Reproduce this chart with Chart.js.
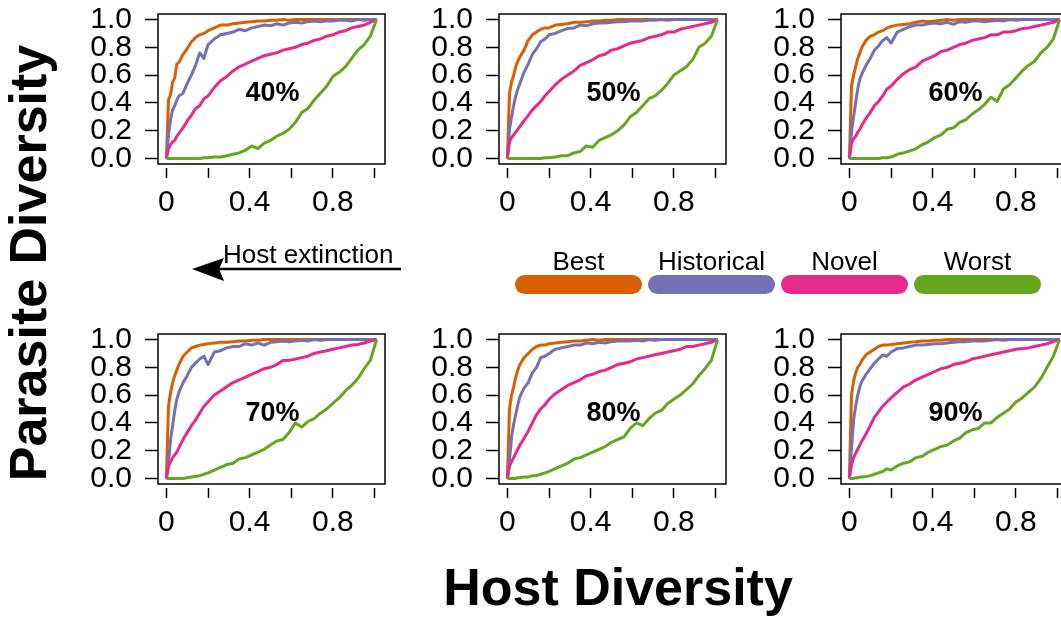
<!DOCTYPE html>
<html>
<head>
<meta charset="utf-8">
<script src="https://cdn.jsdelivr.net/npm/chart.js@4.4.1/dist/chart.umd.min.js"></script>
<style>
  html, body { margin: 0; padding: 0; background: #fff; }
  body { width: 1061px; height: 620px; position: relative; overflow: hidden; font-family: "Liberation Sans", Arial, sans-serif; }
  .panel { position: absolute; width: 320px; height: 230px; }
  #overlay { position: absolute; left: 0; top: 0; pointer-events: none; }
</style>
</head>
<body>
<div id="panels"></div>
<svg id="overlay" width="1061" height="620"></svg>
<script>
// host diversity (x) sampled at the same points for every curve
const hostX = [0, 0.01, 0.02, 0.03, 0.04, 0.05, 0.06, 0.08, 0.10, 0.12, 0.14, 0.16, 0.18, 0.20,
  0.23, 0.26, 0.29, 0.32, 0.35, 0.38, 0.41, 0.44, 0.47, 0.50, 0.53, 0.56, 0.59, 0.62, 0.65,
  0.68, 0.71, 0.74, 0.77, 0.80, 0.83, 0.86, 0.89, 0.92, 0.95, 0.98, 1.01];

const seriesNames = ['Best', 'Historical', 'Novel', 'Worst'];
const seriesColors = ['#D95F02', '#7570B3', '#E7298A', '#66A61E'];
const panelLabels = ['40%', '50%', '60%', '70%', '80%', '90%'];

const xTickValues = [0, 0.2, 0.4, 0.6, 0.8, 1.0];
const xTickLabels = ['0', '', '0.4', '', '0.8', ''];
const yTickValues = [0, 0.2, 0.4, 0.6, 0.8, 1.0];
const yTickLabels = ['0.0', '0.2', '0.4', '0.6', '0.8', '1.0'];

// parasite diversity (y) per panel and scenario
const best40  = [0, .42, .46, .55, .58, .68, .69, .75, .79, .84, .87, .89, .90, .92, .94, .96, .96, .97, .975, .98, .985, .99, .99, .995, .995, 1, .995, 1, 1, 1, 1, 1, 1, 1, 1, 1, 1, 1, 1, 1, 1];
const hist40  = [0, .17, .28, .35, .38, .42, .45, .47, .54, .60, .67, .76, .72, .82, .86, .89, .90, .91, .93, .92, .94, .95, .96, .955, .97, .96, .975, .98, .975, .985, .99, .985, .99, .99, .995, .995, .99, 1, .995, 1, 1];
const novel40 = [0, .07, .10, .12, .13, .16, .18, .22, .27, .31, .36, .38, .43, .45, .51, .56, .59, .63, .66, .68, .70, .72, .74, .75, .76, .78, .79, .80, .82, .83, .85, .86, .88, .89, .91, .92, .94, .95, .96, .98, 1];
const worst40 = [0, 0, 0, 0, 0, 0, 0, 0, 0, 0, 0, 0, .005, .005, .01, .01, .02, .03, .04, .06, .09, .07, .11, .13, .16, .18, .21, .26, .33, .36, .42, .47, .52, .59, .62, .66, .72, .78, .82, .88, 1];

const best50  = [0, .47, .55, .60, .66, .70, .73, .78, .85, .89, .91, .93, .94, .94, .96, .965, .97, .98, .98, .985, .99, .99, .995, .995, 1, 1, 1, 1, 1, 1, 1, 1, 1, 1, 1, 1, 1, 1, 1, 1, 1];
const hist50  = [0, .21, .30, .38, .45, .50, .54, .62, .68, .75, .79, .84, .86, .89, .90, .92, .935, .94, .96, .955, .97, .975, .975, .98, .985, .985, .99, .99, .99, .995, .995, 1, .995, 1, 1, 1, 1, 1, 1, 1, 1];
const novel50 = [0, .12, .15, .17, .19, .21, .23, .27, .31, .35, .38, .41, .45, .48, .53, .57, .60, .63, .67, .69, .71, .74, .75, .78, .79, .81, .83, .84, .85, .87, .88, .89, .91, .91, .93, .94, .95, .96, .97, .98, 1];
const worst50 = [0, 0, 0, 0, 0, 0, 0, 0, 0, 0, 0, 0, .005, .005, .01, .02, .02, .04, .05, .09, .08, .13, .15, .17, .20, .24, .30, .33, .38, .43, .45, .49, .54, .60, .63, .66, .71, .80, .83, .88, 1];

const best60  = [0, .52, .60, .66, .72, .76, .80, .85, .88, .89, .91, .92, .94, .95, .96, .965, .97, .98, .99, .985, .99, .995, 1, .995, 1, 1, 1, 1, 1, 1, 1, 1, 1, 1, 1, 1, 1, 1, 1, 1, 1];
const hist60  = [0, .19, .30, .40, .50, .57, .61, .67, .72, .78, .81, .85, .87, .83, .91, .93, .95, .96, .96, .97, .975, .97, .98, .965, .985, .98, .99, .99, .985, .99, .995, .99, 1, .995, 1, 1, 1, 1, 1, 1, 1];
const novel60 = [0, .11, .14, .16, .19, .21, .24, .29, .33, .38, .41, .45, .50, .52, .57, .61, .64, .66, .70, .72, .74, .77, .78, .80, .82, .83, .85, .86, .87, .89, .89, .91, .91, .92, .935, .94, .95, .96, .97, .98, 1];
const worst60 = [0, 0, 0, 0, 0, 0, 0, 0, 0, 0, 0, .005, .005, .01, .03, .04, .055, .07, .10, .12, .15, .17, .21, .22, .26, .28, .32, .35, .39, .44, .41, .50, .53, .58, .63, .67, .70, .76, .80, .86, 1];

const best70  = [0, .52, .62, .69, .74, .78, .82, .88, .91, .94, .95, .96, .965, .97, .975, .98, .98, .985, .99, .99, .995, .995, 1, 1, 1, 1, 1, 1, 1, 1, 1, 1, 1, 1, 1, 1, 1, 1, 1, 1, 1];
const hist70  = [0, .12, .28, .38, .49, .57, .62, .69, .74, .80, .83, .86, .88, .82, .91, .92, .94, .95, .95, .97, .96, .975, .96, .98, .985, .99, .985, .99, .995, .99, 1, .995, 1, 1, 1, 1, 1, 1, 1, 1, 1];
const novel70 = [0, .09, .12, .15, .17, .19, .22, .28, .33, .38, .42, .47, .52, .55, .60, .63, .66, .69, .71, .73, .75, .77, .79, .80, .82, .85, .85, .86, .87, .88, .90, .91, .92, .93, .94, .95, .96, .965, .975, .99, 1];
const worst70 = [0, 0, 0, 0, 0, 0, 0, 0, .005, .01, .015, .02, .03, .04, .06, .08, .10, .11, .14, .15, .17, .19, .21, .24, .27, .28, .33, .40, .37, .41, .43, .47, .50, .54, .58, .63, .67, .72, .79, .85, 1];

const best80  = [0, .50, .60, .66, .73, .78, .82, .87, .90, .93, .95, .96, .96, .97, .975, .98, .985, .99, .99, .995, 1, .995, 1, 1, 1, 1, 1, 1, 1, 1, 1, 1, 1, 1, 1, 1, 1, 1, 1, 1, 1];
const hist80  = [0, .13, .30, .39, .46, .53, .59, .65, .69, .76, .80, .87, .88, .90, .93, .94, .95, .96, .96, .975, .97, .98, .975, .985, .99, .99, .99, .995, .99, 1, .995, 1, 1, 1, 1, 1, 1, 1, 1, 1, 1];
const novel80 = [0, .09, .12, .15, .18, .21, .24, .29, .34, .40, .46, .50, .53, .57, .61, .64, .67, .69, .71, .74, .75, .77, .78, .80, .82, .83, .84, .86, .87, .88, .89, .90, .91, .92, .93, .95, .95, .96, .97, .98, 1];
const worst80 = [0, 0, 0, 0, 0, .005, .005, .01, .01, .02, .02, .03, .04, .05, .07, .09, .11, .14, .15, .17, .19, .21, .23, .26, .28, .30, .36, .40, .38, .43, .47, .49, .54, .57, .60, .64, .68, .74, .79, .85, 1];

const best90  = [0, .60, .70, .76, .80, .82, .85, .89, .91, .93, .95, .96, .96, .965, .97, .975, .98, .985, .99, .99, .995, .995, 1, 1, 1, 1, 1, 1, 1, 1, 1, 1, 1, 1, 1, 1, 1, 1, 1, 1, 1];
const hist90  = [0, .22, .42, .52, .60, .66, .70, .75, .79, .83, .86, .89, .88, .91, .935, .94, .95, .96, .96, .965, .97, .97, .975, .98, .985, .985, .99, .99, .99, .995, 1, .995, 1, 1, 1, 1, 1, 1, 1, 1, 1];
const novel90 = [0, .10, .15, .18, .21, .24, .27, .32, .38, .44, .48, .52, .55, .58, .62, .66, .68, .71, .73, .75, .77, .79, .80, .82, .83, .84, .86, .87, .88, .89, .90, .91, .92, .93, .935, .94, .95, .96, .97, .985, 1];
const worst90 = [0, 0, 0, .005, .005, .01, .01, .015, .02, .03, .04, .05, .07, .06, .09, .11, .12, .15, .16, .19, .21, .23, .24, .27, .29, .33, .35, .36, .40, .40, .44, .47, .50, .55, .58, .62, .66, .72, .80, .88, 1];

const panelSeries = [
  [best40, hist40, novel40, worst40],
  [best50, hist50, novel50, worst50],
  [best60, hist60, novel60, worst60],
  [best70, hist70, novel70, worst70],
  [best80, hist80, novel80, worst80],
  [best90, hist90, novel90, worst90]
];

const FONT = '"Liberation Sans", Arial, Helvetica, sans-serif';

// box round the plot area, like R's box()
const framePlugin = {
  id: 'frame',
  afterDraw(chart) {
    const { ctx, chartArea: a } = chart;
    ctx.save();
    ctx.strokeStyle = '#000';
    ctx.lineWidth = 1.5;
    ctx.strokeRect(a.left, a.top, a.right - a.left, a.bottom - a.top);
    ctx.restore();
  }
};

// the "40%" etc text inside each panel
const panelLabelPlugin = {
  id: 'panelLabel',
  afterDatasetsDraw(chart, args, opts) {
    const { ctx, scales } = chart;
    ctx.save();
    ctx.font = 'bold 27px ' + FONT;
    ctx.fillStyle = '#000';
    ctx.textAlign = 'center';
    ctx.textBaseline = 'middle';
    ctx.fillText(opts.text, scales.x.getPixelForValue(0.51), scales.y.getPixelForValue(0.47));
    ctx.restore();
  }
};

const panelLefts = [78, 419, 761];
const panelTops = [0, 320];
const holder = document.getElementById('panels');

panelSeries.forEach((series, p) => {
  const div = document.createElement('div');
  div.className = 'panel';
  div.style.left = panelLefts[p % 3] + 'px';
  div.style.top = panelTops[Math.floor(p / 3)] + 'px';
  const canvas = document.createElement('canvas');
  canvas.width = 320;
  canvas.height = 230;
  div.appendChild(canvas);
  holder.appendChild(div);

  new Chart(canvas, {
    type: 'line',
    data: {
      datasets: series.map((vals, i) => ({
        label: seriesNames[i],
        data: hostX.map((x, j) => ({ x: x, y: vals[j] })),
        borderColor: seriesColors[i],
        borderWidth: 3,
        borderJoinStyle: 'round',
        pointRadius: 0,
        tension: 0,
        fill: false,
        order: seriesNames.length - i
      }))
    },
    options: {
      responsive: false,
      animation: false,
      layout: { padding: { left: 0, top: 14, right: 13, bottom: 0 } },
      plugins: {
        legend: { display: false },
        tooltip: { enabled: false },
        panelLabel: { text: panelLabels[p] }
      },
      scales: {
        x: {
          type: 'linear',
          min: -0.0404,
          max: 1.0504,
          afterBuildTicks: s => { s.ticks = xTickValues.map(v => ({ value: v })); },
          afterFit: s => { s.height = 66; s.paddingLeft = 0; s.paddingRight = 0; },
          ticks: {
            autoSkip: false,
            maxRotation: 0,
            padding: 7,
            color: '#000',
            font: { family: FONT, size: 30 },
            callback: (v) => xTickLabels[xTickValues.indexOf(v)] ?? ''
          },
          grid: {
            drawOnChartArea: false,
            tickLength: 14,
            tickColor: '#000',
            tickWidth: 1.5,
            tickBorderDash: [0, 4, 10, 100]
          },
          border: { display: false }
        },
        y: {
          type: 'linear',
          min: -0.04,
          max: 1.04,
          afterBuildTicks: s => { s.ticks = yTickValues.map(v => ({ value: v })); },
          afterFit: s => { s.width = 80; s.paddingTop = 0; s.paddingBottom = 0; },
          ticks: {
            autoSkip: false,
            padding: 13,
            color: '#000',
            font: { family: FONT, size: 30 },
            callback: (v) => yTickLabels[yTickValues.indexOf(v)] ?? ''
          },
          grid: {
            drawOnChartArea: false,
            tickLength: 13,
            tickColor: '#000',
            tickWidth: 1.5
          },
          border: { display: false }
        }
      }
    },
    plugins: [framePlugin, panelLabelPlugin]
  });
});

// titles, arrow and legend in an svg on top
const svg = document.getElementById('overlay');
const NS = 'http://www.w3.org/2000/svg';
function add(tag, attrs, text) {
  const el = document.createElementNS(NS, tag);
  for (const k in attrs) el.setAttribute(k, attrs[k]);
  if (text) el.textContent = text;
  svg.appendChild(el);
  return el;
}

add('text', { x: 618, y: 605, 'text-anchor': 'middle', 'font-family': FONT, 'font-weight': 'bold', 'font-size': 52 }, 'Host Diversity');
add('text', { x: 46, y: 263, 'text-anchor': 'middle', 'font-family': FONT, 'font-weight': 'bold', 'font-size': 52,
  transform: 'rotate(-90 46 263)' }, 'Parasite Diversity');

// host extinction arrow
add('line', { x1: 401, y1: 269, x2: 210, y2: 269, stroke: '#000', 'stroke-width': 2.5 });
add('polygon', { points: '192,269 224,258 219,269 224,281', fill: '#000' });
add('text', { x: 223, y: 263, 'font-family': FONT, 'font-size': 26 }, 'Host extinction');

// legend
seriesNames.forEach((name, i) => {
  const x = 515 + i * 133;
  add('rect', { x: x, y: 275, width: 127, height: 19, rx: 9.5, ry: 9.5, fill: seriesColors[i] });
  add('text', { x: x + 63.5, y: 270, 'text-anchor': 'middle', 'font-family': FONT, 'font-size': 26 }, name);
});
</script>
</body>
</html>
